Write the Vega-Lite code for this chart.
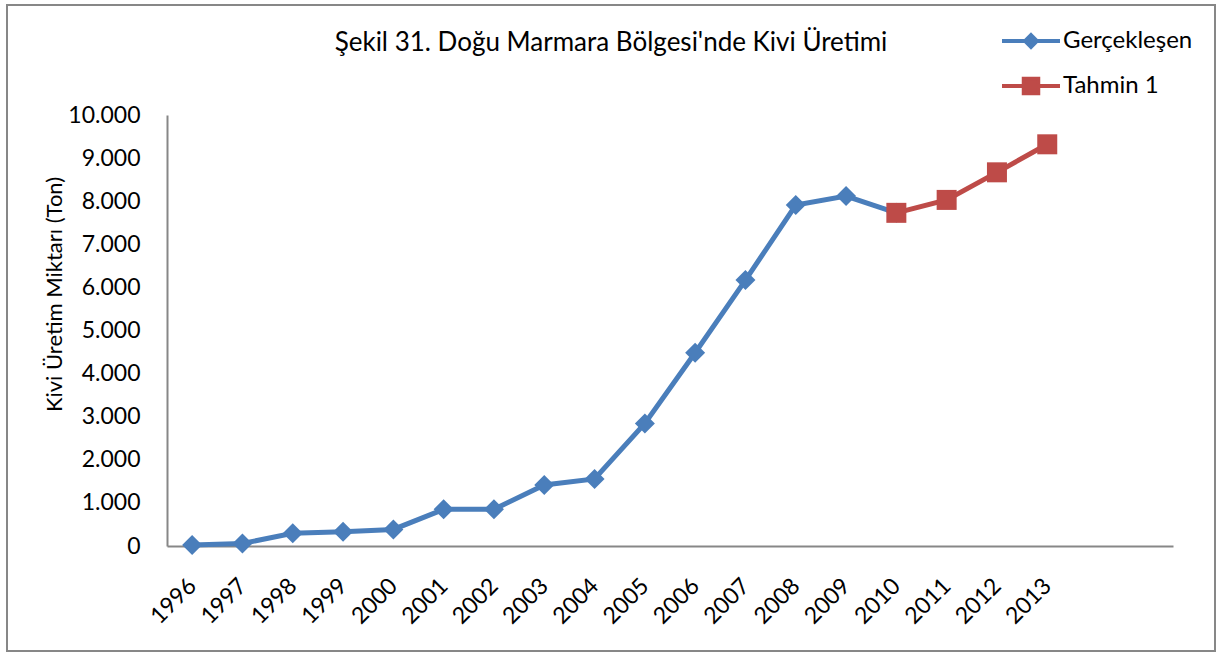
{
  "$schema": "https://vega.github.io/schema/vega-lite/v6.json",
  "autosize": {"type": "none"},
  "width": 1208,
  "height": 646,
  "padding": {"left": 7, "top": 5, "right": 2, "bottom": 2},
  "background": "white",
  "config": {
    "font": "Lato",
    "view": {"stroke": "#878787", "strokeWidth": 2}
  },
  "title": {
    "text": "Şekil 31. Doğu Marmara Bölgesi'nde Kivi Üretimi",
    "orient": "top",
    "anchor": "middle",
    "offset": -51,
    "fontSize": 26,
    "fontWeight": "normal",
    "font": "Lato",
    "color": "black"
  },
  "data": {
    "values": [
      {"year": 1996, "value": 25, "series": "Gerçekleşen"},
      {"year": 1997, "value": 60, "series": "Gerçekleşen"},
      {"year": 1998, "value": 295, "series": "Gerçekleşen"},
      {"year": 1999, "value": 330, "series": "Gerçekleşen"},
      {"year": 2000, "value": 385, "series": "Gerçekleşen"},
      {"year": 2001, "value": 850, "series": "Gerçekleşen"},
      {"year": 2002, "value": 850, "series": "Gerçekleşen"},
      {"year": 2003, "value": 1415, "series": "Gerçekleşen"},
      {"year": 2004, "value": 1555, "series": "Gerçekleşen"},
      {"year": 2005, "value": 2845, "series": "Gerçekleşen"},
      {"year": 2006, "value": 4485, "series": "Gerçekleşen"},
      {"year": 2007, "value": 6170, "series": "Gerçekleşen"},
      {"year": 2008, "value": 7910, "series": "Gerçekleşen"},
      {"year": 2009, "value": 8120, "series": "Gerçekleşen"},
      {"year": 2010, "value": 7730, "series": "Gerçekleşen"},
      {"year": 2010, "value": 7730, "series": "Tahmin 1"},
      {"year": 2011, "value": 8030, "series": "Tahmin 1"},
      {"year": 2012, "value": 8670, "series": "Tahmin 1"},
      {"year": 2013, "value": 9320, "series": "Tahmin 1"}
    ]
  },
  "encoding": {
    "x": {
      "field": "year",
      "type": "ordinal",
      "scale": {
        "domain": [1996, 1997, 1998, 1999, 2000, 2001, 2002, 2003, 2004, 2005, 2006, 2007, 2008, 2009, 2010, 2011, 2012, 2013, 2014, 2015],
        "range": [160, 1166],
        "padding": 0.5
      },
      "axis": {
        "title": null,
        "orient": "bottom",
        "offset": -105,
        "labelAngle": -45,
        "labelAlign": "right",
        "labelBaseline": "middle",
        "labelPadding": 36,
        "ticks": false,
        "tickSize": 0,
        "grid": false,
        "domainColor": "#878787",
        "domainWidth": 2,
        "labelFontSize": 23,
        "labelColor": "black",
        "labelFont": "Lato",
        "labelOverlap": false,
        "labelExpr": "datum.value > 2013 ? '' : datum.label"
      }
    },
    "y": {
      "field": "value",
      "type": "quantitative",
      "scale": {"domain": [0, 10000], "range": [541, 110], "nice": false},
      "axis": {
        "title": "Kivi Üretim Miktarı (Ton)",
        "orient": "left",
        "offset": -160,
        "values": [0, 1000, 2000, 3000, 4000, 5000, 6000, 7000, 8000, 9000, 10000],
        "labelExpr": "replace(format(datum.value, ','), ',', '.')",
        "ticks": false,
        "tickSize": 0,
        "grid": false,
        "domainColor": "#878787",
        "domainWidth": 2,
        "labelFontSize": 23,
        "labelColor": "black",
        "labelFont": "Lato",
        "labelPadding": 27,
        "titleFontSize": 22,
        "titleFontWeight": "normal",
        "titleColor": "black",
        "titleFont": "Lato",
        "titleX": -113,
        "titleY": 289,
        "titleAngle": -90,
        "titleAlign": "center",
        "titleBaseline": "middle"
      }
    }
  },
  "layer": [
    {
      "mark": {"type": "line", "strokeWidth": 5},
      "encoding": {
        "color": {
          "field": "series",
          "type": "nominal",
          "scale": {"domain": ["Gerçekleşen", "Tahmin 1"], "range": ["#4A7EBB", "#BE4B48"]},
          "legend": {
            "title": null,
            "orient": "none",
            "legendX": 993,
            "legendY": 5,
            "padding": 0,
            "labelFontSize": 24,
            "labelColor": "black",
            "labelFont": "Lato",
            "labelOffset": 1,
            "rowPadding": -5,
            "symbolSize": 900,
            "symbolStrokeWidth": 4,
            "encode": {
              "symbols": {
                "update": {
                  "shape": {"signal": "datum.value === 'Gerçekleşen' ? 'M-1,0L1,0M0,-0.2L0.2,0L0,0.2L-0.2,0Z' : 'M-1,0L1,0M-0.25,-0.25L0.25,-0.25L0.25,0.25L-0.25,0.25Z'"},
                  "size": {"value": 3364},
                  "fill": {"signal": "datum.value === 'Gerçekleşen' ? '#4A7EBB' : '#BE4B48'"},
                  "stroke": {"signal": "datum.value === 'Gerçekleşen' ? '#4A7EBB' : '#BE4B48'"},
                  "strokeWidth": {"value": 4},
                  "opacity": {"value": 1},
                  "fillOpacity": {"value": 1}
                }
              }
            }
          }
        }
      }
    },
    {
      "mark": {"type": "point", "filled": true, "size": 400, "opacity": 1},
      "encoding": {
        "color": {
          "field": "series",
          "type": "nominal",
          "scale": {"domain": ["Gerçekleşen", "Tahmin 1"], "range": ["#4A7EBB", "#BE4B48"]},
          "legend": null
        },
        "shape": {
          "field": "series",
          "type": "nominal",
          "scale": {"domain": ["Gerçekleşen", "Tahmin 1"], "range": ["diamond", "square"]},
          "legend": null
        }
      }
    }
  ],
  "resolve": {"scale": {"color": "independent", "shape": "independent"}, "legend": {"color": "independent"}}
}
